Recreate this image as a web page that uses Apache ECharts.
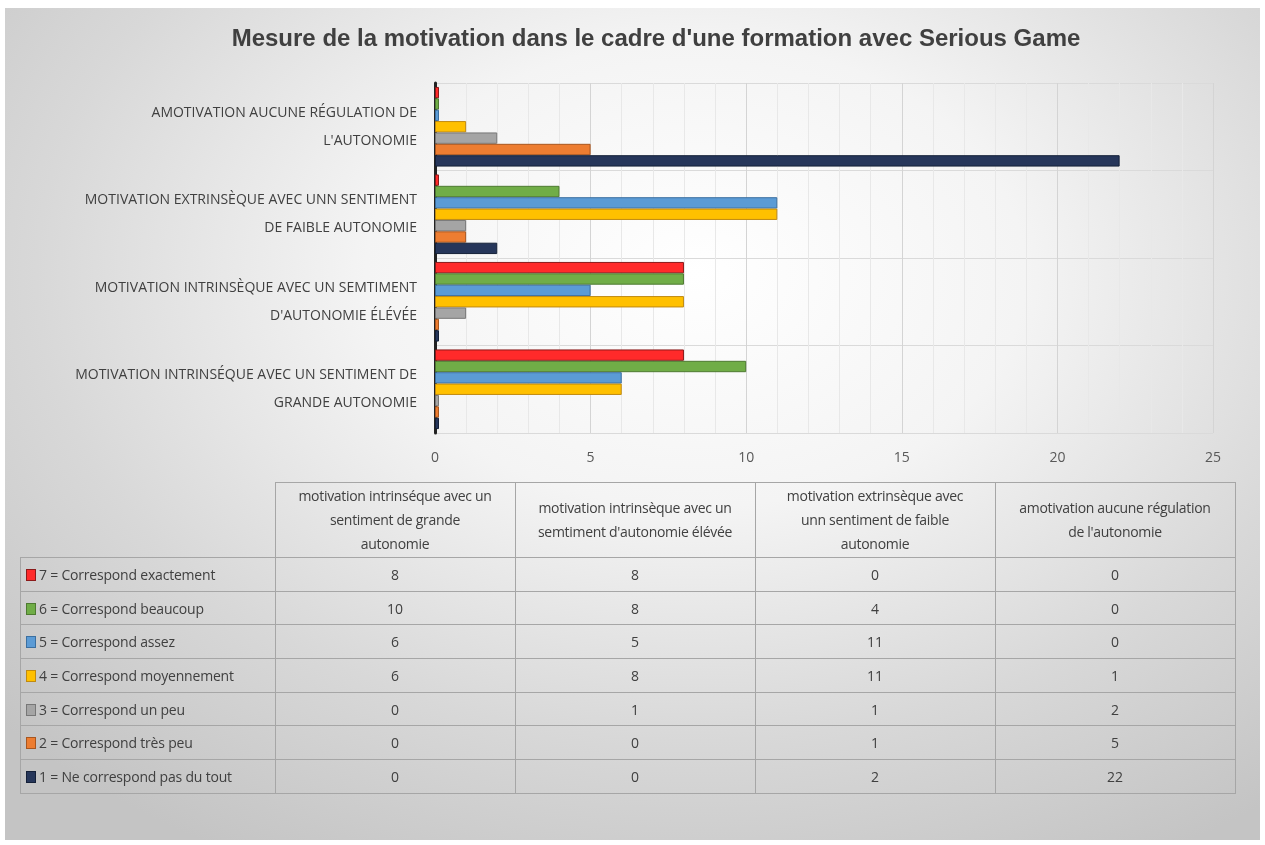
<!DOCTYPE html>
<html>
<head>
<meta charset="utf-8">
<script src="https://cdn.jsdelivr.net/npm/echarts@6/dist/echarts.min.js"></script>
<style>
  html, body { margin: 0; padding: 0; background: #fff; }
  #wrap {
    position: absolute; left: 5px; top: 8px; width: 1255px; height: 832px;
    background: radial-gradient(ellipse 75% 80% at 55% 32%, #ffffff 0%, #f4f4f4 35%, #d8d8d8 70%, #c4c4c4 100%);
  }
  #chart { position: absolute; left: 0; top: 0; width: 1265px; height: 845px; }
  #tbl {
    position: absolute; left: 20px; top: 482px; border-collapse: collapse;
    font-family: "Open Sans", sans-serif; font-size: 14px; color: #404040;
  }
  #tbl td { border: 1px solid #a6a6a6; padding: 0; text-align: center; }
  #tbl tr.head td { height: 74px; line-height: 24px; white-space: pre-line; letter-spacing: -0.3px; }
  #tbl tr.row td { height: 32.7px; }
  #tbl td.corner { border-top: none; border-left: none; }
  #tbl td.name { text-align: left; white-space: nowrap; padding-left: 5px; letter-spacing: -0.2px; }
  .key { display: inline-block; width: 8px; height: 10px; margin-right: 3px; vertical-align: -1px; border: 1px solid; }
</style>
</head>
<body>
<div id="wrap"></div>
<div id="chart"></div>
<table id="tbl"></table>
<script>
var title = "Mesure de la motivation dans le cadre d'une formation avec Serious Game";

// categories (bottom to top on the chart, left to right in the table)
var axisLabels = [
  'MOTIVATION INTRINSÉQUE AVEC UN SENTIMENT DE\nGRANDE AUTONOMIE',
  'MOTIVATION INTRINSÈQUE AVEC UN SEMTIMENT\nD\'AUTONOMIE ÉLÉVÉE',
  'MOTIVATION EXTRINSÈQUE AVEC UNN SENTIMENT\nDE FAIBLE AUTONOMIE',
  'AMOTIVATION AUCUNE RÉGULATION DE\nL\'AUTONOMIE'
];
var tableHeaders = [
  'motivation intrinséque avec un\nsentiment de grande\nautonomie',
  'motivation intrinsèque avec un\nsemtiment d\'autonomie élévée',
  'motivation extrinsèque avec\nunn sentiment de faible\nautonomie',
  'amotivation aucune régulation\nde l\'autonomie'
];

var seriesNames = [
  '7 = Correspond exactement',
  '6 = Correspond beaucoup',
  '5 = Correspond assez',
  '4 = Correspond moyennement',
  '3 = Correspond un peu',
  '2 = Correspond très peu',
  '1 = Ne correspond pas du tout'
];
var v7 = [8, 8, 0, 0];
var v6 = [10, 8, 4, 0];
var v5 = [6, 5, 11, 0];
var v4 = [6, 8, 11, 1];
var v3 = [0, 1, 1, 2];
var v2 = [0, 0, 1, 5];
var v1 = [0, 0, 2, 22];
var seriesValues = [v7, v6, v5, v4, v3, v2, v1];

var colors = ['#ff2a2a', '#70ad47', '#5b9bd5', '#ffc000', '#a5a5a5', '#ed7d31', '#26365a'];
var borders = ['#8b1a1a', '#4e7a31', '#3b6fa0', '#c08a10', '#777777', '#a8561f', '#142038'];

var xTicks = [0, 25, 5];

var chart = echarts.init(document.getElementById('chart'));

var series = seriesNames.map(function (name, i) {
  return {
    name: name,
    type: 'bar',
    data: seriesValues[i],
    barGap: '0%',
    barCategoryGap: '9%',
    barMinHeight: 4,
    itemStyle: {
      color: colors[i],
      borderColor: borders[i],
      borderWidth: 1
    }
  };
});

chart.setOption({
  backgroundColor: 'transparent',
  title: {
    text: title,
    left: 651,
    top: 22,
    textAlign: 'center',
    textStyle: { fontFamily: 'Liberation Sans', fontWeight: 'bold', fontSize: 24, color: '#404040' }
  },
  grid: { left: 435, right: 52, top: 83, bottom: 412, containLabel: false },
  xAxis: {
    type: 'value',
    min: xTicks[0],
    max: xTicks[1],
    interval: xTicks[2],
    axisLine: { show: false },
    axisTick: { show: false },
    axisLabel: { margin: 18, fontSize: 14, color: '#595959', fontFamily: 'Open Sans' },
    splitLine: { lineStyle: { color: '#d4d4d4' } },
    minorTick: { show: false, splitNumber: 5 },
    minorSplitLine: { show: true, lineStyle: { color: '#e8e8e8' } }
  },
  yAxis: {
    type: 'category',
    data: axisLabels,
    axisLine: { lineStyle: { color: '#222', width: 3 } },
    axisTick: { show: false },
    splitLine: { show: true, lineStyle: { color: '#dadada' } },
    axisLabel: {
      margin: 18,
      fontSize: 14,
      lineHeight: 28,
      color: '#404040',
      fontFamily: 'Open Sans',
      align: 'right'
    }
  },
  series: series
});

// data table under the chart
var tbl = document.getElementById('tbl');
var colW = [254, 239, 239, 239, 239];
var html = '<tr class="head"><td class="corner" style="width:' + colW[0] + 'px"></td>';
tableHeaders.forEach(function (h, j) {
  html += '<td style="width:' + colW[j + 1] + 'px">' + h + '</td>';
});
html += '</tr>';
seriesNames.forEach(function (name, i) {
  html += '<tr class="row"><td class="name"><span class="key" style="background:' + colors[i] +
    ';border-color:' + borders[i] + '"></span>' + name + '</td>';
  seriesValues[i].forEach(function (v) { html += '<td>' + v + '</td>'; });
  html += '</tr>';
});
tbl.innerHTML = html;
</script>
</body>
</html>
